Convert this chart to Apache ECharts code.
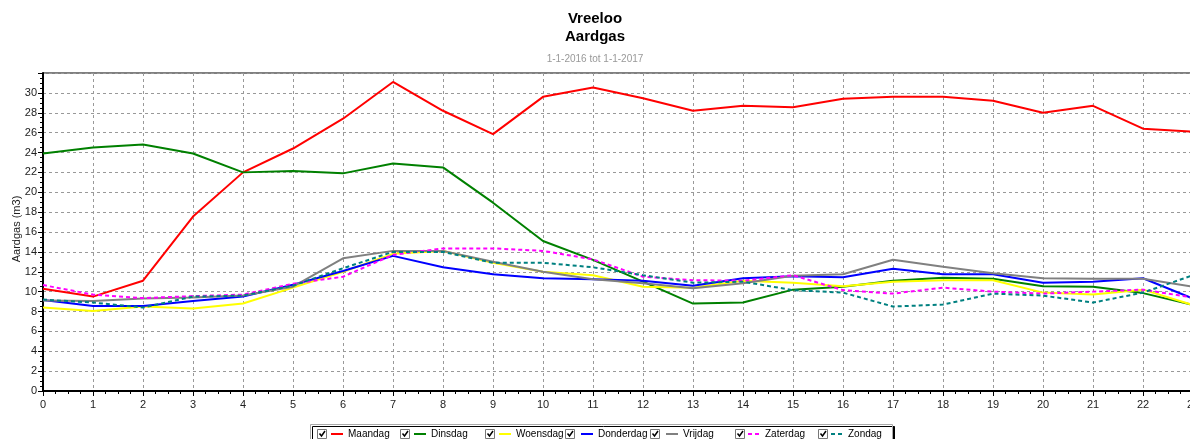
<!DOCTYPE html>
<html>
<head>
<meta charset="utf-8">
<script src="https://cdn.jsdelivr.net/npm/echarts@6/dist/echarts.min.js"></script>
<style>
  body { margin: 0; background: #fff; }
  #chart { width: 1190px; height: 439px; }
</style>
</head>
<body>
<div id="chart"></div>
<script>
  // uren van de dag
  var hours = [0, 1, 2, 3, 4, 5, 6, 7, 8, 9, 10, 11, 12, 13, 14, 15, 16, 17, 18, 19, 20, 21, 22, 23];

  var maandag   = [10.3, 9.5, 11.1, 17.55, 22.0, 24.4, 27.4, 31.1, 28.2, 25.85, 29.6, 30.55, 29.45, 28.2, 28.7, 28.55, 29.4, 29.6, 29.6, 29.2, 28.0, 28.7, 26.4, 26.1];
  var dinsdag   = [23.9, 24.5, 24.8, 23.9, 22.0, 22.15, 21.9, 22.9, 22.5, 18.95, 15.1, 13.2, 11.0, 8.8, 8.9, 10.2, 10.5, 11.1, 11.4, 11.3, 10.55, 10.5, 9.85, 8.65];
  var woensdag  = [8.4, 8.05, 8.5, 8.3, 8.8, 10.4, 12.0, 13.8, 14.1, 12.9, 12.0, 11.65, 10.5, 10.4, 11.1, 10.9, 10.55, 11.0, 11.15, 11.15, 9.9, 9.7, 10.2, 8.65];
  var donderdag = [9.15, 8.55, 8.55, 9.05, 9.5, 10.7, 12.07, 13.6, 12.45, 11.75, 11.35, 11.25, 11.1, 10.6, 11.35, 11.55, 11.45, 12.3, 11.75, 11.75, 10.9, 11.0, 11.35, 9.3];
  var vrijdag   = [9.1, 9.05, 9.3, 9.4, 9.6, 10.5, 13.35, 14.1, 14.1, 13.0, 12.0, 11.25, 10.85, 10.35, 10.85, 11.6, 11.75, 13.2, 12.5, 11.85, 11.35, 11.3, 11.3, 10.5];
  var zaterdag  = [10.66, 9.7, 9.35, 9.55, 9.7, 10.8, 11.5, 13.7, 14.35, 14.35, 14.1, 13.25, 11.5, 11.15, 11.1, 11.65, 10.15, 9.8, 10.4, 10.0, 9.8, 10.0, 10.2, 9.4];
  var zondag    = [9.2, 8.9, 8.4, 9.5, 9.6, 10.6, 12.35, 14.0, 14.0, 12.9, 12.9, 12.45, 11.65, 10.9, 11.0, 10.15, 9.9, 8.5, 8.7, 9.8, 9.6, 8.9, 9.9, 11.65];

  var dayNames  = ['Maandag', 'Dinsdag', 'Woensdag', 'Donderdag', 'Vrijdag', 'Zaterdag', 'Zondag'];
  var dayValues = [maandag, dinsdag, woensdag, donderdag, vrijdag, zaterdag, zondag];
  var dayColors = ['#ff0000', '#008000', '#ffff00', '#0000ff', '#808080', '#ff00ff', '#008080'];
  var dayDashed = [false, false, false, false, false, true, true];

  // plek van elk legenda-item (vinkje, lijntje)
  var legendBoxX  = [317, 400, 485, 565, 650, 735, 818];
  var legendLineX = [330, 413, 498, 580, 665, 747, 830];

  var font = 'Liberation Sans, Arial, sans-serif';

  function pairs(values) {
    var out = [];
    for (var i = 0; i < hours.length; i++) {
      out.push([hours[i], values[i]]);
    }
    return out;
  }

  var series = [];
  var legends = [];
  var graphics = [
    {
      type: 'rect', z: 1,
      shape: { x: 310.5, y: 424.5, width: 582, height: 24 },
      style: { fill: '#fff', stroke: '#aaa', lineWidth: 1, shadowColor: '#000', shadowOffsetX: 2, shadowOffsetY: 2, shadowBlur: 0 }
    },
    {
      // as-titel links
      type: 'text', z: 10,
      x: 17, y: 229, rotation: Math.PI / 2,
      style: { text: 'Aardgas (m3)', font: '11px ' + font, fill: '#222', align: 'center', verticalAlign: 'middle' }
    }
  ];

  for (var d = 0; d < dayNames.length; d++) {
    series.push({
      name: dayNames[d],
      type: 'line',
      symbol: 'none',
      animation: false,
      data: pairs(dayValues[d]),
      lineStyle: {
        color: dayColors[d],
        width: 2,
        type: dayDashed[d] ? [4, 3] : 'solid'
      },
      itemStyle: { color: dayColors[d] }
    });

    legends.push({
      left: legendLineX[d],
      top: 429,
      z: 10,
      padding: 0,
      itemWidth: 12,
      itemHeight: 12,
      itemStyle: { opacity: 0 },
      selectedMode: false,
      data: [dayNames[d]],
      textStyle: { fontFamily: font, fontSize: 10, color: '#000' }
    });

    // vinkje
    var bx = legendBoxX[d] + 0.5;
    graphics.push({
      type: 'rect', z: 100,
      shape: { x: bx, y: 429.5, width: 9, height: 9 },
      style: { fill: '#fff', stroke: '#777', lineWidth: 1 }
    });
    graphics.push({
      type: 'polyline', z: 101,
      shape: { points: [[bx + 2, 433.5], [bx + 4, 436], [bx + 7.5, 431]] },
      style: { fill: null, stroke: '#000', lineWidth: 1.5 }
    });
  }

  var option = {
    animation: false,
    backgroundColor: '#fff',
    title: [
      {
        text: 'Vreeloo\nAardgas',
        left: 'center',
        top: 5,
        padding: [5, 0, 5, 12],
        textStyle: { fontFamily: font, fontSize: 15, fontWeight: 'bold', color: '#000', lineHeight: 18 }
      },
      {
        text: '1-1-2016 tot 1-1-2017',
        left: 'center',
        top: 49,
        padding: [5, 0, 5, 12],
        textStyle: { fontFamily: font, fontSize: 10, fontWeight: 'normal', color: '#999' }
      }
    ],
    grid: {
      left: 43,
      top: 73,
      width: 1150,
      height: 318,
      containLabel: false,
      outerBoundsMode: 'none',
      show: true,
      borderColor: '#000',
      borderWidth: 1
    },
    legend: legends,
    xAxis: {
      type: 'value',
      min: 0,
      max: 23,
      interval: 1,
      axisLine: { lineStyle: { color: '#000', width: 2 } },
      axisTick: { length: 5, lineStyle: { color: '#000' } },
      minorTick: { show: true, splitNumber: 4, length: 3, lineStyle: { color: '#000' } },
      axisLabel: { fontFamily: font, fontSize: 11, color: '#222', margin: 8 },
      splitLine: { show: true, lineStyle: { color: '#999', type: [3, 3], width: 1 } }
    },
    yAxis: {
      type: 'value',
      min: 0,
      max: 32,
      interval: 2,
      axisLine: { show: true, lineStyle: { color: '#000', width: 2 } },
      axisTick: { show: true, length: 5, lineStyle: { color: '#000' } },
      minorTick: { show: true, splitNumber: 4, length: 3, lineStyle: { color: '#000' } },
      axisLabel: {
        fontFamily: font, fontSize: 11, color: '#222', margin: 6,
        formatter: function (v) { return v === 32 ? '' : v; }
      },
      splitLine: { show: true, lineStyle: { color: '#999', type: [3, 3], width: 1 } }
    },
    graphic: { elements: graphics },
    series: series
  };

  var chart = echarts.init(document.getElementById('chart'));
  chart.setOption(option);
</script>
</body>
</html>
